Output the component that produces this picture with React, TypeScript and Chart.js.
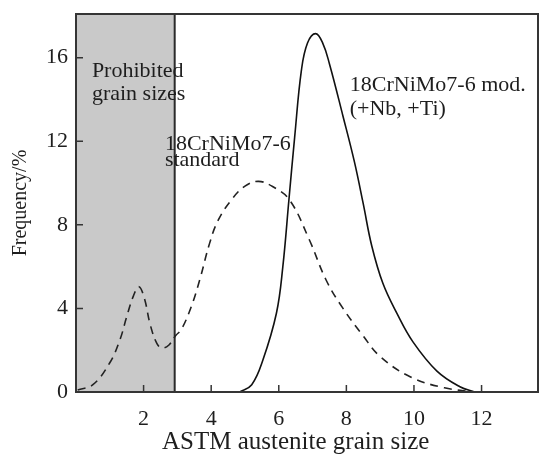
import React, { useEffect, useRef } from "react";
import { Chart, registerables } from "chart.js";

Chart.register(...registerables);

// ---- data ----
const DASHED_X = [0.05, 0.5, 1.0, 1.3, 1.5, 1.7, 1.86, 2.02, 2.2, 2.4, 2.55, 2.75, 2.95, 3.12, 3.41, 3.66, 3.95, 4.2, 4.6, 5.0, 5.4, 5.83, 6.32, 6.9, 7.4, 7.9, 8.49, 9.0, 9.9, 10.9, 11.8];
const DASHED_Y = [0.1, 0.35, 1.4, 2.5, 3.6, 4.6, 5.04, 4.5, 3.2, 2.3, 2.1, 2.25, 2.7, 3.0, 4.08, 5.36, 7.1, 8.2, 9.2, 9.85, 10.08, 9.82, 9.19, 7.3, 5.36, 4.0, 2.7, 1.7, 0.72, 0.2, 0.0];
const SOLID_X = [4.84, 5.2, 5.53, 5.93, 6.12, 6.3, 6.47, 6.67, 6.85, 7.09, 7.3, 7.5, 7.9, 8.24, 8.5, 8.75, 9.08, 9.5, 9.97, 10.68, 11.36, 11.8];
const SOLID_Y = [0.0, 0.35, 1.53, 3.77, 6.0, 9.2, 12.2, 15.4, 16.7, 17.15, 16.7, 15.7, 13.2, 11.0, 9.0, 7.0, 5.2, 3.75, 2.4, 1.0, 0.25, 0.0];
const X_TICKS = [2, 4, 6, 8, 10, 12];
const Y_TICKS = [0, 4, 8, 12, 16];
const X_MIN = 0;
const X_MAX = 13.67;
const Y_MIN = 0;
const Y_MAX = 18.09;
const PROHIBITED_MAX = 2.92;
const X_TITLE = "ASTM austenite grain size";
const Y_TITLE = "Frequency/%";
const LABEL_PROHIBITED = ["Prohibited", "grain sizes"];
const LABEL_STANDARD = ["18CrNiMo7-6", "standard"];
const LABEL_MOD = ["18CrNiMo7-6 mod.", "(+Nb, +Ti)"];

const FONT = "'Liberation Serif', 'Times New Roman', serif";
const INK = "#1e1e1e";

const toPts = (xs: number[], ys: number[]) => xs.map((x, i) => ({ x, y: ys[i] }));

const decorPlugin = {
  id: "decor",
  beforeDatasetsDraw(chart: any) {
    const { ctx, chartArea: a, scales } = chart;
    const xs = scales.x;
    ctx.save();
    const xr = xs.getPixelForValue(PROHIBITED_MAX);
    ctx.fillStyle = "#c9c9c9";
    ctx.fillRect(a.left, a.top, xr - a.left, a.bottom - a.top);
    ctx.strokeStyle = "#2a2a2a";
    ctx.lineWidth = 2;
    ctx.beginPath();
    ctx.moveTo(xr, a.top);
    ctx.lineTo(xr, a.bottom);
    ctx.stroke();
    ctx.restore();
  },
  afterDatasetsDraw(chart: any) {
    const { ctx, chartArea: a, scales } = chart;
    const xs = scales.x;
    const ys = scales.y;
    ctx.save();
    // frame
    ctx.strokeStyle = "#353535";
    ctx.lineWidth = 2;
    ctx.strokeRect(a.left, a.top, a.right - a.left, a.bottom - a.top);
    // inner ticks
    ctx.lineWidth = 1.5;
    ctx.beginPath();
    X_TICKS.forEach((v) => {
      const px = xs.getPixelForValue(v);
      ctx.moveTo(px, a.bottom);
      ctx.lineTo(px, a.bottom - 7);
    });
    Y_TICKS.forEach((v) => {
      if (v === 0) return;
      const py = ys.getPixelForValue(v);
      ctx.moveTo(a.left, py);
      ctx.lineTo(a.left + 7, py);
    });
    ctx.stroke();
    // annotations
    ctx.fillStyle = INK;
    ctx.font = `22px ${FONT}`;
    ctx.textAlign = "left";
    ctx.textBaseline = "alphabetic";
    const put = (lines: string[], x: number, y: number, gap: number) => {
      const px = xs.getPixelForValue(x);
      const py = ys.getPixelForValue(y);
      lines.forEach((t, i) => ctx.fillText(t, px, py + i * gap));
    };
    put(LABEL_PROHIBITED, 0.47, 15.07, 23);
    put(LABEL_STANDARD, 2.63, 11.6, 16);
    put(LABEL_MOD, 8.1, 14.4, 24);
    // x axis title
    ctx.font = `25px ${FONT}`;
    ctx.textAlign = "center";
    ctx.fillText(X_TITLE, xs.getPixelForValue(6.5), a.bottom + 57);
    ctx.restore();
  },
};

export default function App() {
  const ref = useRef<HTMLCanvasElement | null>(null);
  useEffect(() => {
    if (!ref.current) return;
    Chart.defaults.font.family = FONT;
    const chart = new Chart(ref.current, {
      type: "scatter",
      data: {
        datasets: [
          {
            label: "18CrNiMo7-6 standard",
            data: toPts(DASHED_X, DASHED_Y),
            showLine: true,
            borderColor: "#222",
            borderWidth: 1.6,
            borderDash: [8, 6],
            pointRadius: 0,
            tension: 0.4,
            fill: false,
          },
          {
            label: "18CrNiMo7-6 mod. (+Nb, +Ti)",
            data: toPts(SOLID_X, SOLID_Y),
            showLine: true,
            borderColor: "#111",
            borderWidth: 1.6,
            pointRadius: 0,
            tension: 0.4,
            fill: false,
          },
        ],
      },
      options: {
        responsive: false,
        animation: false,
        layout: { padding: { left: 0, top: 14, right: 1, bottom: 0 } },
        plugins: { legend: { display: false }, tooltip: { enabled: false }, title: { display: false } },
        scales: {
          x: {
            type: "linear",
            min: X_MIN,
            max: X_MAX,
            grid: { display: false, drawTicks: false },
            border: { display: false },
            afterBuildTicks: (s: any) => {
              s.ticks = X_TICKS.map((v) => ({ value: v }));
            },
            afterFit: (s: any) => {
              s.height = 63;
              s.paddingLeft = 0;
              s.paddingRight = 0;
            },
            ticks: {
              color: INK,
              font: { size: 22, family: FONT },
              padding: 14,
              maxRotation: 0,
              autoSkip: false,
              callback: (v: any) => String(v),
            },
            title: { display: false, text: X_TITLE },
          },
          y: {
            type: "linear",
            min: Y_MIN,
            max: Y_MAX,
            grid: { display: false, drawTicks: false },
            border: { display: false },
            afterBuildTicks: (s: any) => {
              s.ticks = Y_TICKS.map((v) => ({ value: v }));
            },
            afterFit: (s: any) => {
              s.width = 76;
              s.paddingTop = 0;
              s.paddingBottom = 0;
            },
            ticks: {
              color: INK,
              font: { size: 22, family: FONT },
              padding: 8,
              autoSkip: false,
              callback: (v: any) => String(v),
            },
            title: {
              display: true,
              text: Y_TITLE,
              color: INK,
              font: { size: 20, family: FONT, lineHeight: 1.2 },
              padding: { top: 9, bottom: 0 },
            },
          },
        },
      },
      plugins: [decorPlugin],
    });
    return () => chart.destroy();
  }, []);
  return (
    <div style={{ position: "absolute", left: 0, top: 0, width: 539, height: 455, background: "#fff" }}>
      <canvas ref={ref} width={539} height={455} style={{ display: "block" }} />
    </div>
  );
}
